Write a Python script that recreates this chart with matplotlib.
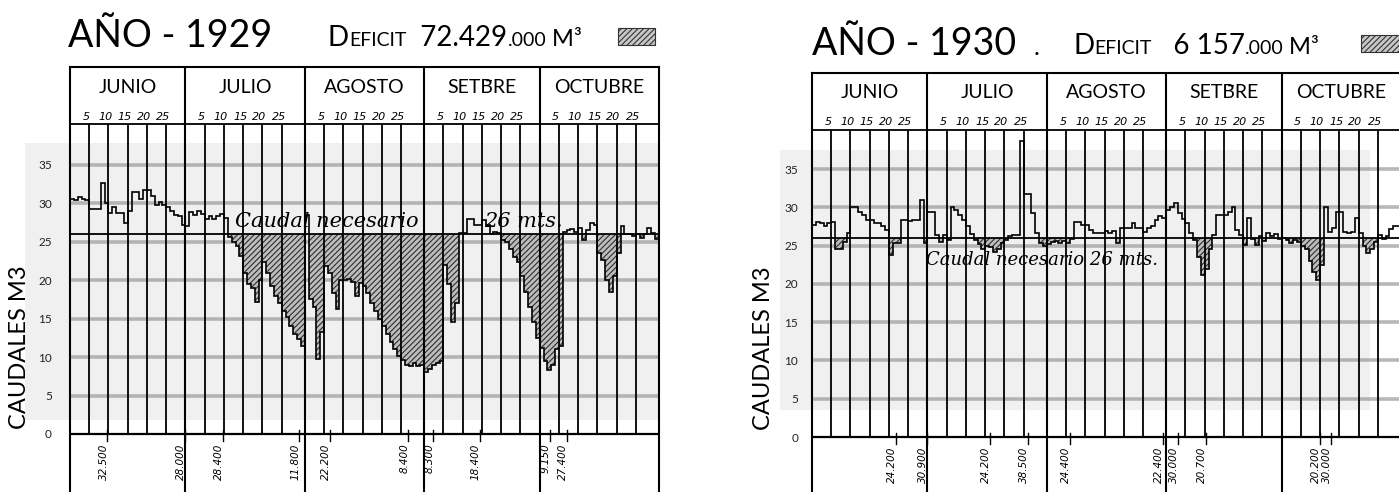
import numpy as np
import matplotlib.pyplot as plt
from matplotlib.patches import Rectangle

W, H = 1399, 492

months = ["JUNIO", "JULIO", "AGOSTO", "SETB\u0304RE", "OCTUBRE"]
month_start = [0, 30, 61, 92, 122, 153]
day_marks = [5, 10, 15, 20, 25]
required = 26

# caudal diario (m3/s), 1 junio .. 31 octubre
flow_1929 = [
    30.6, 30.4, 30.8, 30.5, 30.4, 29.2, 29.2, 29.2, 32.6, 30.0,
    28.7, 29.5, 28.7, 28.8, 27.4, 29.0, 31.5, 31.5, 30.6, 31.7,
    31.7, 30.9, 29.8, 30.2, 29.8, 29.5, 29.0, 28.5, 28.3, 27.2,
    27.0, 28.9, 28.5, 29.0, 28.6, 28.0, 28.3, 28.0, 28.3, 28.6,
    28.1, 25.6, 25.0, 24.4, 23.2, 21.0, 19.5, 19.0, 17.2, 20.0,
    22.4, 21.0, 19.2, 18.0, 17.0, 16.0, 15.2, 14.0, 13.0, 12.3,
    11.5,
    28.5, 17.5, 16.5, 9.8, 13.2, 21.8, 21.0, 18.3, 16.3, 20.0,
    20.0, 20.2, 19.8, 17.9, 19.6, 19.2, 18.3, 17.0, 16.0, 15.0,
    14.0, 13.0, 12.0, 11.0, 10.2, 9.6, 9.0, 8.8, 9.2, 8.8,
    9.0,
    8.1, 8.5, 9.0, 9.2, 9.5, 22.0, 19.5, 14.5, 17.0, 26.2,
    26.2, 28.0, 28.0, 27.2, 27.2, 27.8, 27.2, 26.0, 26.3, 26.2,
    25.2, 25.0, 24.0, 23.0, 22.4, 20.5, 18.5, 16.5, 14.5, 12.5,
    11.2, 9.5, 8.3, 9.0, 11.0, 11.5, 26.3, 26.5, 26.7, 26.3,
    26.8, 25.2, 26.5, 27.4, 27.2, 23.5, 22.6, 20.0, 18.5, 20.5,
    23.5, 27.0, 26.0, 26.0, 25.8, 26.0, 25.5, 26.0, 26.8, 26.2,
    25.3,
]
flow_1930 = [
    27.7, 28.1, 27.9, 27.6, 27.9, 28.1, 24.6, 24.6, 25.5, 26.6,
    30.1, 30.0, 29.4, 29.0, 28.3, 28.3, 27.9, 27.9, 27.5, 27.0,
    23.8, 25.3, 25.4, 28.3, 28.3, 28.2, 28.4, 28.3, 31.0, 25.3,
    29.4, 29.4, 26.4, 25.5, 26.4, 25.7, 30.1, 29.6, 29.0, 28.3,
    27.5, 26.5, 25.7, 25.2, 24.6, 25.0, 24.8, 24.2, 24.5, 25.3,
    25.7, 26.2, 26.4, 26.4, 38.6, 31.8, 31.8, 29.2, 26.6, 25.3,
    24.9,
    25.2, 25.5, 25.6, 25.4, 25.6, 25.3, 25.8, 28.1, 28.1, 27.7,
    27.7, 27.0, 26.6, 26.6, 26.6, 26.9, 26.6, 26.9, 25.3, 27.3,
    27.3, 27.3, 27.9, 27.3, 27.3, 26.8, 27.3, 27.6, 28.3, 28.8,
    28.6,
    29.6, 30.1, 30.5, 29.2, 28.5, 27.9, 26.6, 25.7, 23.5, 21.2,
    22.0, 24.5, 26.4, 29.0, 29.0, 29.0, 29.4, 30.1, 27.0, 26.4,
    25.1, 28.6, 25.8, 25.1, 26.2, 25.6, 26.7, 26.2, 26.5, 25.8,
    26.0, 25.7, 25.4, 25.7, 25.5, 25.0, 24.5, 23.0, 21.5, 20.5,
    22.5, 30.0, 26.8, 27.3, 29.4, 29.4, 26.8, 26.6, 26.8, 28.6,
    26.6, 25.0, 24.0, 24.5, 25.5, 26.4, 25.8, 26.3, 27.2, 27.5,
    27.6,
]

notes_1929 = ["32.500", "28.000", "28.400", "11.800", "22.200",
              "8.400", "8.300", "18.400", "9.150", "27.400"]
notes_1929_day = [8.7, 28.9, 38.8, 58.5, 66.6, 86.9, 93.4, 105.4, 123.6, 128.0]
notes_1930 = ["24.200", "30.900", "24.200", "38.500", "24.400",
              "22.400", "30.000", "20.700", "20.200", "30.000"]
notes_1930_day = [20.8, 28.8, 45.2, 55.1, 66.0, 90.2, 94.0, 101.3, 131.0, 133.8]

plt.rcParams['font.family'] = ['Lato', 'DejaVu Sans']
plt.rcParams['hatch.linewidth'] = 0.8

fig = plt.figure(figsize=(W / 100, H / 100), dpi=100)
renderer = fig.canvas.get_renderer()


def fx(x):
    return x / W


def fy(y):
    return 1 - y / H


def chain_text(x, y, pieces):
    # small caps style: pieces of different sizes on one baseline
    for s, fs in pieces:
        t = fig.text(fx(x), fy(y), s, fontsize=fs, ha='left', va='baseline')
        x = t.get_window_extent(renderer).x1
    return x


def panel(left, top, zero, unit, head, flow, notes, notes_day, ylab_pad):
    vb = (zero - H) / unit
    vt = (zero - top) / unit
    ax = fig.add_axes([fx(left), 0, 589 / W, 1 - top / H])
    ax.set_facecolor('none')
    ax.set_xlim(0, 153)
    ax.set_ylim(vb, vt)
    ax.spines['bottom'].set_visible(False)
    for s in ['top', 'left', 'right']:
        ax.spines[s].set_linewidth(1.5)
    ax.set_xticks([])
    ax.set_yticks(range(0, 40, 5))
    ax.tick_params(axis='y', length=0, pad=ylab_pad, labelsize=8.5, labelcolor='#222222')

    for v in range(5, 40, 5):
        ax.axhline(v, color='#9a9a9a', lw=2.6, alpha=0.7, zorder=1)
    ax.axhline(0, color='black', lw=1.6, zorder=3)
    ax.axhline(head, color='black', lw=1.3, zorder=3)
    ax.axhline(required, color='black', lw=1.3, zorder=3)

    fives = [s + d for s in month_start[:-1] for d in day_marks]
    ax.vlines(fives, 0, head, color='black', lw=1.3, zorder=3)
    ax.vlines(month_start[1:-1], vb, vt, color='black', lw=1.5, zorder=3)

    for i, m in enumerate(months):
        a, b = month_start[i], month_start[i + 1]
        ax.text((a + b) / 2, 45.0, m, ha='center', va='center', fontsize=14)
        for d in day_marks:
            ax.text(a + d - 0.8, 41.2, str(d), ha='center', va='center',
                    fontsize=8, style='italic', family='DejaVu Sans')

    edges = np.arange(len(flow) + 1)
    vals = np.array(flow)
    ax.stairs(np.minimum(vals, required), edges, baseline=required, fill=True,
              facecolor='#bdbdbd', edgecolor='#2e2e2e', hatch='//////', lw=0, zorder=2)
    ax.stairs(vals, edges, baseline=None, color='black', lw=1.2, zorder=4)

    for s, d in zip(notes, notes_day):
        ax.text(d, -1.2, s, rotation=90, ha='center', va='top', fontsize=7.5,
                style='italic', family='DejaVu Sans')
        ax.plot([d + 1.0, d + 1.0], [-0.9, 0.5], color='black', lw=1.0)
    return ax


# fondo gris del escaneo
fig.add_artist(Rectangle((fx(25), fy(420)), fx(635), 277 / H, transform=fig.transFigure,
                         facecolor='#f0f0f0', edgecolor='none', zorder=-1))
fig.add_artist(Rectangle((fx(780), fy(410)), fx(590), 260 / H, transform=fig.transFigure,
                         facecolor='#f0f0f0', edgecolor='none', zorder=-1))

ax1 = panel(70, 67, 434, 7.69, 40.3, flow_1929, notes_1929, notes_1929_day, 13)
ax2 = panel(812, 73, 437, 7.657, 40.1, flow_1930, notes_1930, notes_1930_day, 10)

ax1.text(66.6, 27.6, "Caudal necesario", ha='center', va='center', fontsize=15,
         family='DejaVu Serif', style='italic', zorder=5)
ax1.text(117.9, 27.6, "26 mts.", ha='center', va='center', fontsize=15,
         family='DejaVu Serif', style='italic', zorder=5)
ax2.text(59.7, 23.1, "Caudal necesario 26 mts.", ha='center', va='center', fontsize=13,
         family='DejaVu Serif', style='italic', zorder=5)

# titulos
fig.text(fx(68), fy(47), "AÑO - 1929", fontsize=27, ha='left', va='baseline')
chain_text(328, 46, [("D", 20), ("EFICIT", 14), ("  72.429", 20), (".000", 14), (" M³", 17)])
fig.add_artist(Rectangle((fx(618), fy(45)), fx(37), 17 / H, transform=fig.transFigure,
                         facecolor='#c8c8c8', edgecolor='#333333', hatch='//////', lw=0.8))

fig.text(fx(812), fy(55), "AÑO - 1930", fontsize=27, ha='left', va='baseline')
fig.text(fx(1034), fy(55), ".", fontsize=18, ha='left', va='baseline')
chain_text(1073, 54, [("D", 20), ("EFICIT", 14), ("   6 157", 20), (".000", 14), (" M³", 17)])
fig.add_artist(Rectangle((fx(1361), fy(52)), fx(40), 17 / H, transform=fig.transFigure,
                         facecolor='#c8c8c8', edgecolor='#333333', hatch='//////', lw=0.8))

fig.text(fx(20), fy(347), "CAUDALES M3", rotation=90, ha='center', va='center', fontsize=17)
fig.text(fx(763), fy(348), "CAUDALES M3", rotation=90, ha='center', va='center', fontsize=17)

fig.savefig('out.png', dpi=100)
